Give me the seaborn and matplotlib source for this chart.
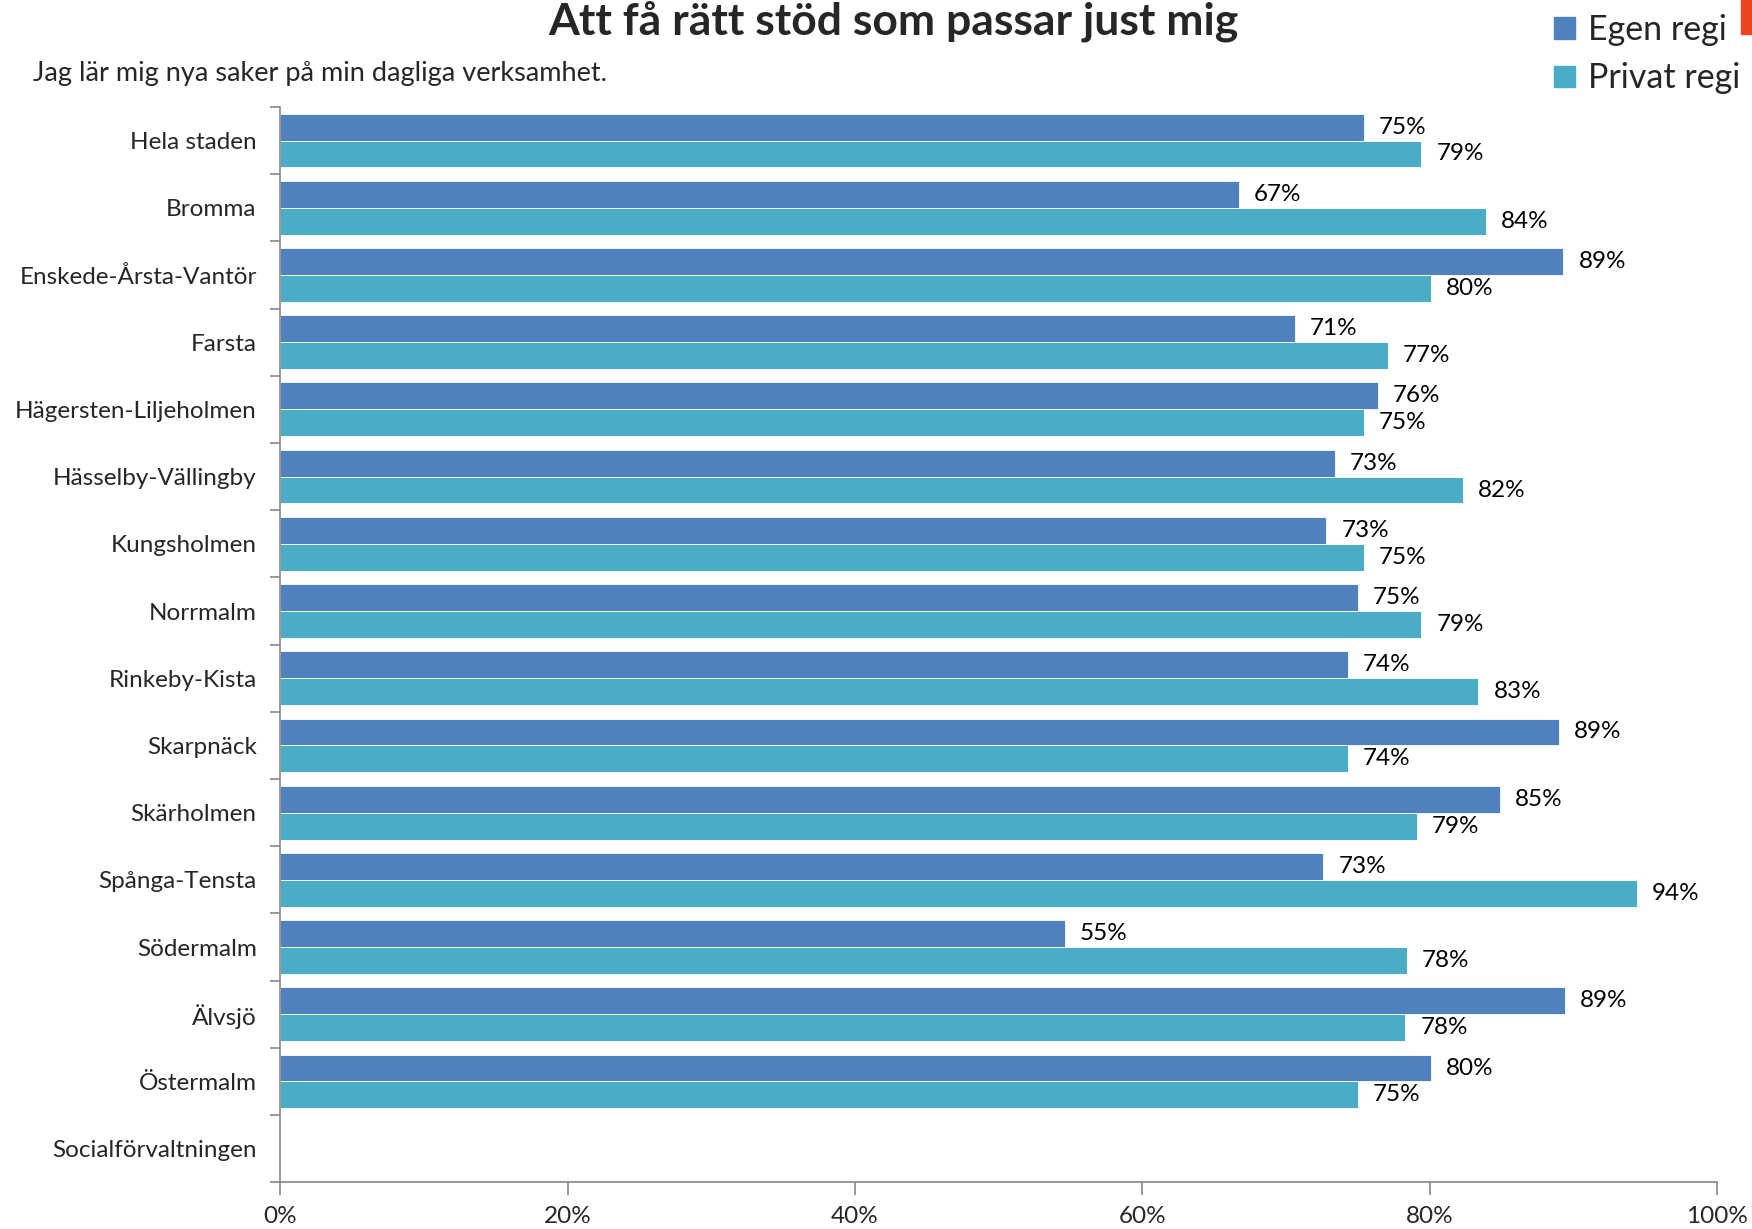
import pandas as pd
import matplotlib.pyplot as plt
import seaborn as sns
from matplotlib.patches import Rectangle

categories = ['Hela staden', 'Bromma', 'Enskede-Årsta-Vantör', 'Farsta',
              'Hägersten-Liljeholmen', 'Hässelby-Vällingby', 'Kungsholmen',
              'Norrmalm', 'Rinkeby-Kista', 'Skarpnäck', 'Skärholmen',
              'Spånga-Tensta', 'Södermalm', 'Älvsjö', 'Östermalm',
              'Socialförvaltningen']
# Socialförvaltningen has no bars
regions = categories[:-1]
egen = [75.4, 66.7, 89.3, 70.6, 76.4, 73.4, 72.8, 75.0, 74.3, 89.0,
        84.9, 72.6, 54.6, 89.4, 80.1]
privat = [79.4, 83.9, 80.1, 77.1, 75.4, 82.3, 75.4, 79.4, 83.4, 74.3,
          79.1, 94.4, 78.4, 78.3, 75.0]
series = ['Egen regi', 'Privat regi']
xticks = [0, 20, 40, 60, 80, 100]

df = pd.DataFrame({'Region': regions * 2,
                   'Regi': [series[0]] * len(regions) + [series[1]] * len(regions),
                   'Andel': egen + privat})

sns.set_theme(style='white')
plt.rcParams['font.family'] = ['Lato', 'DejaVu Sans']

fig = plt.figure(figsize=(17.52, 12.29), dpi=100)
ax = fig.add_axes([0.160, 0.038, 0.820, 0.875])

sns.barplot(data=df, y='Region', x='Andel', hue='Regi', order=categories,
            hue_order=series, orient='h', palette=['#4F81BD', '#4BACC6'],
            width=0.8, edgecolor='white', linewidth=0.6, saturation=1,
            errorbar=None, ax=ax)

for cont in ax.containers:
    ax.bar_label(cont, labels=[f'{round(v)}%' for v in cont.datavalues],
                 padding=11, fontsize=17.5, color='black')

ax.set_xlim(0, 100)
ax.set_xticks(xticks)
ax.set_xticklabels([f'{t}%' for t in xticks], fontsize=17.5)
ax.set_xlabel('')
ax.set_ylabel('')
ax.tick_params(axis='y', which='major', length=0, pad=17, labelsize=17.5)
ax.set_yticks([i - 0.5 for i in range(len(categories) + 1)], minor=True)
ax.tick_params(axis='y', which='minor', left=True, length=7, width=1.2,
               color='#888888', direction='out')
ax.tick_params(axis='x', which='major', bottom=True, length=9, width=1.2,
               color='#888888', direction='out', pad=8)
for s in ['top', 'right']:
    ax.spines[s].set_visible(False)
for s in ['left', 'bottom']:
    ax.spines[s].set_color('#888888')
    ax.spines[s].set_linewidth(1.2)

ax.get_legend().remove()
handles = [Rectangle((0, 0), 1, 1, color=c) for c in ['#4F81BD', '#4BACC6']]
fig.legend(handles, series, loc='upper left', bbox_to_anchor=(0.8735, 1.008),
           frameon=False, fontsize=24.5, handlelength=0.6, handleheight=0.6,
           handletextpad=0.4, labelspacing=0.48, borderaxespad=0.3)

fig.text(0.51, 0.983, 'Att få rätt stöd som passar just mig', ha='center', va='center',
         fontsize=32, fontweight='bold')
fig.text(0.019, 0.940, 'Jag lär mig nya saker på min dagliga verksamhet.', ha='left',
         va='center', fontsize=19.5)

# cut-off marker in the top right corner
fig.patches.append(Rectangle((0.9935, 0.972), 0.0065, 0.028, transform=fig.transFigure,
                             color='#EE4422', figure=fig))

plt.savefig('out.png', dpi=100)
